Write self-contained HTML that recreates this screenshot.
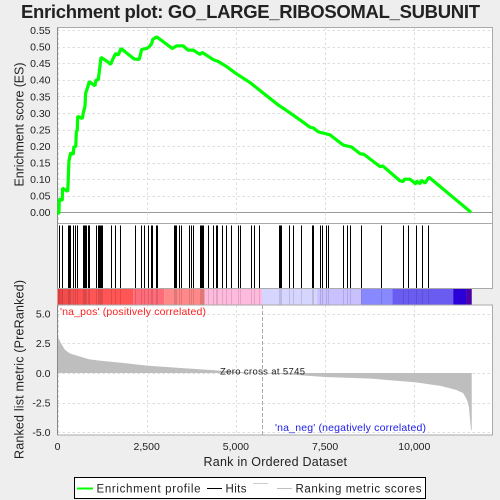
<!DOCTYPE html>
<html>
<head>
<meta charset="utf-8">
<title>Enrichment plot</title>
<style>
html,body{margin:0;padding:0;background:#eeeeee;}
svg{display:block;}
text{font-family:"Liberation Sans",sans-serif;fill:#222;}
</style>
</head>
<body>
<svg id="chart" xmlns="http://www.w3.org/2000/svg" width="500" height="500" viewBox="0 0 500 500">
  <rect x="0" y="0" width="500" height="500" fill="#eeeeee"/>
  <text x="21" y="18" font-size="18.5" font-weight="bold" textLength="459" lengthAdjust="spacing" fill="#111">Enrichment plot: GO_LARGE_RIBOSOMAL_SUBUNIT</text>

  <rect x="57.5" y="27.5" width="435" height="196" fill="#fff"/>
  <rect x="57.5" y="223.5" width="435" height="65" fill="#fff"/>
  <rect x="57.5" y="305" width="435" height="130" fill="#fff"/>

  <g id="grid"></g>
  <g id="metric"></g>
  <g id="hits"></g>
  <g id="ribbon"></g>
  <g id="frames"></g>
  <g id="curve"></g>
  <g id="ticks"></g>

  <text transform="translate(23.5,124.5) rotate(-90)" text-anchor="middle" font-size="12.5" textLength="124" lengthAdjust="spacing">Enrichment score (ES)</text>
  <text transform="translate(23.5,369.5) rotate(-90)" text-anchor="middle" font-size="12.5" textLength="179" lengthAdjust="spacing">Ranked list metric (PreRanked)</text>
  <text x="203.5" y="466" font-size="12.5" textLength="143.5" lengthAdjust="spacing">Rank in Ordered Dataset</text>
  <text x="60" y="315" font-size="10.5" textLength="146" lengthAdjust="spacing" style="fill:#ff2020">'na_pos' (positively correlated)</text>
  <text x="275" y="431" font-size="10.5" textLength="151" lengthAdjust="spacing" style="fill:#2020ee">'na_neg' (negatively correlated)</text>
  <text x="220" y="374.5" font-size="9.5" textLength="85" lengthAdjust="spacing">Zero cross at 5745</text>

  <g>
    <rect x="74.5" y="477.5" width="351" height="21" fill="#fff" stroke="#000" stroke-width="1"/>
    <line x1="77" x2="93" y1="488.5" y2="488.5" stroke="#00ff00" stroke-width="2"/>
    <text x="96.5" y="492.5" font-size="11.5" textLength="104" lengthAdjust="spacing">Enrichment profile</text>
    <line x1="207" x2="222" y1="488.5" y2="488.5" stroke="#000" stroke-width="1"/>
    <text x="225.5" y="492.5" font-size="11.5" textLength="21" lengthAdjust="spacing">Hits</text>
    <line x1="253" x2="268" y1="483.5" y2="483.5" stroke="#cccccc" stroke-width="1"/>
    <line x1="277" x2="292" y1="488.5" y2="488.5" stroke="#c0c0c0" stroke-width="1"/>
    <text x="295.5" y="492.5" font-size="11.5" textLength="126" lengthAdjust="spacing">Ranking metric scores</text>
  </g>
</svg>
<script>
const esTicks = ["0.00","0.05","0.10","0.15","0.20","0.25","0.30","0.35","0.40","0.45","0.50","0.55"];
const metricTicks = ["-5.0","-2.5","0.0","2.5","5.0"];
const rankTicks = ["0","2,500","5,000","7,500","10,000"];
const zeroCross = 5745;
const esRanks = [0,40,50,135,140,286,300,320,370,443,460,510,530,555,566,695,723,770,790,846,891,1050,1080,1143,1171,1220,1400,1490,1560,1630,1700,1780,2150,2290,2360,2500,2570,2640,2668,2780,3218,3340,3520,3658,3806,3994,4058,4367,4500,4742,5022,5395,5675,6190,6330,6797,7077,7170,7310,7637,8010,8245,8480,8590,9040,9115,9600,9692,9720,9880,10048,10056,10160,10196,10300,10412,11590];
const esValues = [-0.003,-0.003,0.04,0.036,0.073,0.063,0.095,0.155,0.18,0.175,0.2,0.197,0.245,0.247,0.29,0.283,0.3,0.32,0.36,0.378,0.395,0.382,0.4,0.4,0.425,0.468,0.455,0.447,0.465,0.48,0.475,0.495,0.463,0.462,0.492,0.495,0.5,0.51,0.522,0.53,0.495,0.503,0.503,0.49,0.49,0.477,0.483,0.461,0.456,0.44,0.418,0.392,0.368,0.324,0.314,0.279,0.257,0.255,0.243,0.234,0.203,0.197,0.177,0.175,0.138,0.14,0.095,0.093,0.1,0.1,0.085,0.095,0.086,0.097,0.088,0.106,0];
const hitRanks = [50,135,286,314,350,443,499,555,706,734,770,800,846,891,1070,1143,1171,1199,1227,1247,1508,1611,1752,2180,2332,2433,2528,2620,2657,2752,2780,3257,3285,3321,3414,3461,3677,3733,3789,4002,4030,4058,4086,4226,4367,4434,4462,4602,4714,4854,5067,5115,5432,5516,5656,6208,6236,6272,6497,6609,6833,7124,7169,7349,7421,7517,7590,8010,8122,8206,8514,9075,9692,9832,10056,10224,10392];
const metricRanks = [0,40,100,210,350,630,900,1180,1750,2500,3450,4300,5050,5745,6700,7500,8800,10050,10750,11170,11370,11480,11530,11590,11610];
const metricValues = [3.06,2.85,2.5,1.95,1.65,1.38,1.15,1.05,0.88,0.62,0.42,0.25,0.1,0,-0.17,-0.34,-0.48,-0.79,-1.1,-1.43,-1.7,-2.3,-2.85,-4.8,-4.8];
const bandEnds = [60,180,350,800,2120,2990,4130,5730,7280,8510,9390,11090,11450,11610];
const bandColors = ["#e03a3a","#ee4444","#f24c4c","#fb5050","#ff5555","#ff6b78","#ff8888","#ffbbdd","#d5d5ff","#c8c0ff","#8888ff","#6a5cf0","#2a00d8","#4b00aa"];

const NS = "http://www.w3.org/2000/svg";
function make(parentId, tag, attrs) {
  const el = document.createElementNS(NS, tag);
  for (const k in attrs) el.setAttribute(k, attrs[k]);
  document.getElementById(parentId).appendChild(el);
  return el;
}
const xScale = r => 57.5 + r * 0.03568;
const yEs = v => 212.3 - v * 331;
const yMetric = v => 373 - v * 11.84;
const rankValue = s => Number(s.replace(/,/g, ""));

esTicks.forEach(t => {
  const y = Math.round(yEs(Number(t))) + 0.5;
  const zero = Number(t) === 0;
  const g = make("grid", "line", {x1: 57.5, x2: 492.5, y1: y, y2: y, stroke: zero ? "#999999" : "#dddddd", "stroke-width": 1, "stroke-dasharray": zero ? "none" : "2.5,2.5"});
  
  
  const l = make("ticks", "text", {x: 50.5, y: yEs(Number(t)) + 3.8, "text-anchor": "end", "font-size": 10.5});
  
  
  l.textContent = t;
});
metricTicks.forEach(t => {
  const y = Math.round(yMetric(Number(t))) + 0.5;
  const g = make("grid", "line", {x1: 57.5, x2: 492.5, y1: y, y2: y, stroke: "#dddddd", "stroke-width": 1, "stroke-dasharray": "2.5,2.5"});
  
  
  const l = make("ticks", "text", {x: 50.5, y: yMetric(Number(t)) + 3.8, "text-anchor": "end", "font-size": 10.5});
  
  
  l.textContent = t;
});
rankTicks.forEach(t => {
  const x = xScale(rankValue(t));
  const gx = Math.round(x) + 0.5;
  const g1 = make("grid", "line", {x1: gx, x2: gx, y1: 27.5, y2: 223.5, stroke: "#dddddd", "stroke-width": 1, "stroke-dasharray": "2.5,2.5"});
  
  
  const g2 = make("grid", "line", {x1: gx, x2: gx, y1: 305, y2: 435, stroke: "#dddddd", "stroke-width": 1, "stroke-dasharray": "2.5,2.5"});
  
  
  const l = make("ticks", "text", {x: x, y: 450, "text-anchor": "middle", "font-size": 10.5});
  
  
  l.textContent = t;
});

const zx = Math.round(xScale(zeroCross)) + 0.5;
const zeroLine = make("grid", "line", {x1: zx, x2: zx, y1: 305, y2: 435, stroke: "#aaaaaa", "stroke-width": 1, "stroke-dasharray": "4,2"});



const metricPts = metricRanks.map((r, i) => xScale(r).toFixed(2) + "," + yMetric(metricValues[i]).toFixed(2));
const metricArea = make("metric", "polygon", {
  points: xScale(metricRanks[0]).toFixed(2) + "," + yMetric(0) + " " + metricPts.join(" ") + " " + xScale(metricRanks[metricRanks.length - 1]).toFixed(2) + "," + yMetric(0),
  fill: "#bebebe"
});



hitRanks.forEach(r => {
  const x = Math.round(xScale(r)) + 0.5;
  const h = make("hits", "line", {x1: x, x2: x, y1: 225.5, y2: 288, stroke: "#000", "stroke-width": 1});
  
  
});

let bandStart = 0;
bandEnds.forEach((end, i) => {
  const b = make("ribbon", "rect", {x: xScale(bandStart), y: 288.5, width: xScale(end) - xScale(bandStart), height: 16.5, fill: bandColors[i]});
  
  
  bandStart = end;
});
hitRanks.forEach(r => {
  const x = Math.round(xScale(r)) + 0.5;
  const h = make("ribbon", "line", {x1: x, x2: x, y1: 288.5, y2: 305, stroke: "#000", "stroke-opacity": 0.12, "stroke-width": 1});
  
  
});

const panelFrames = [[27.5, 223.5], [223.5, 288.5], [305, 435]];
panelFrames.forEach(p => {
  const f = make("frames", "rect", {x: 57.5, y: p[0], width: 435, height: p[1] - p[0], fill: "none", stroke: "#aaaaaa", "stroke-width": 1});
  
  
  const a = make("frames", "line", {x1: 57.5, x2: 57.5, y1: p[0], y2: p[1], stroke: "#888888", "stroke-width": 1});
  
  
});

const esLine = make("curve", "polyline", {
  points: esRanks.map((r, i) => xScale(r).toFixed(2) + "," + yEs(esValues[i]).toFixed(2)).join(" "),
  fill: "none", stroke: "#00ff00", "stroke-width": 3.2, "stroke-linejoin": "bevel"
});


</script>
</body>
</html>
